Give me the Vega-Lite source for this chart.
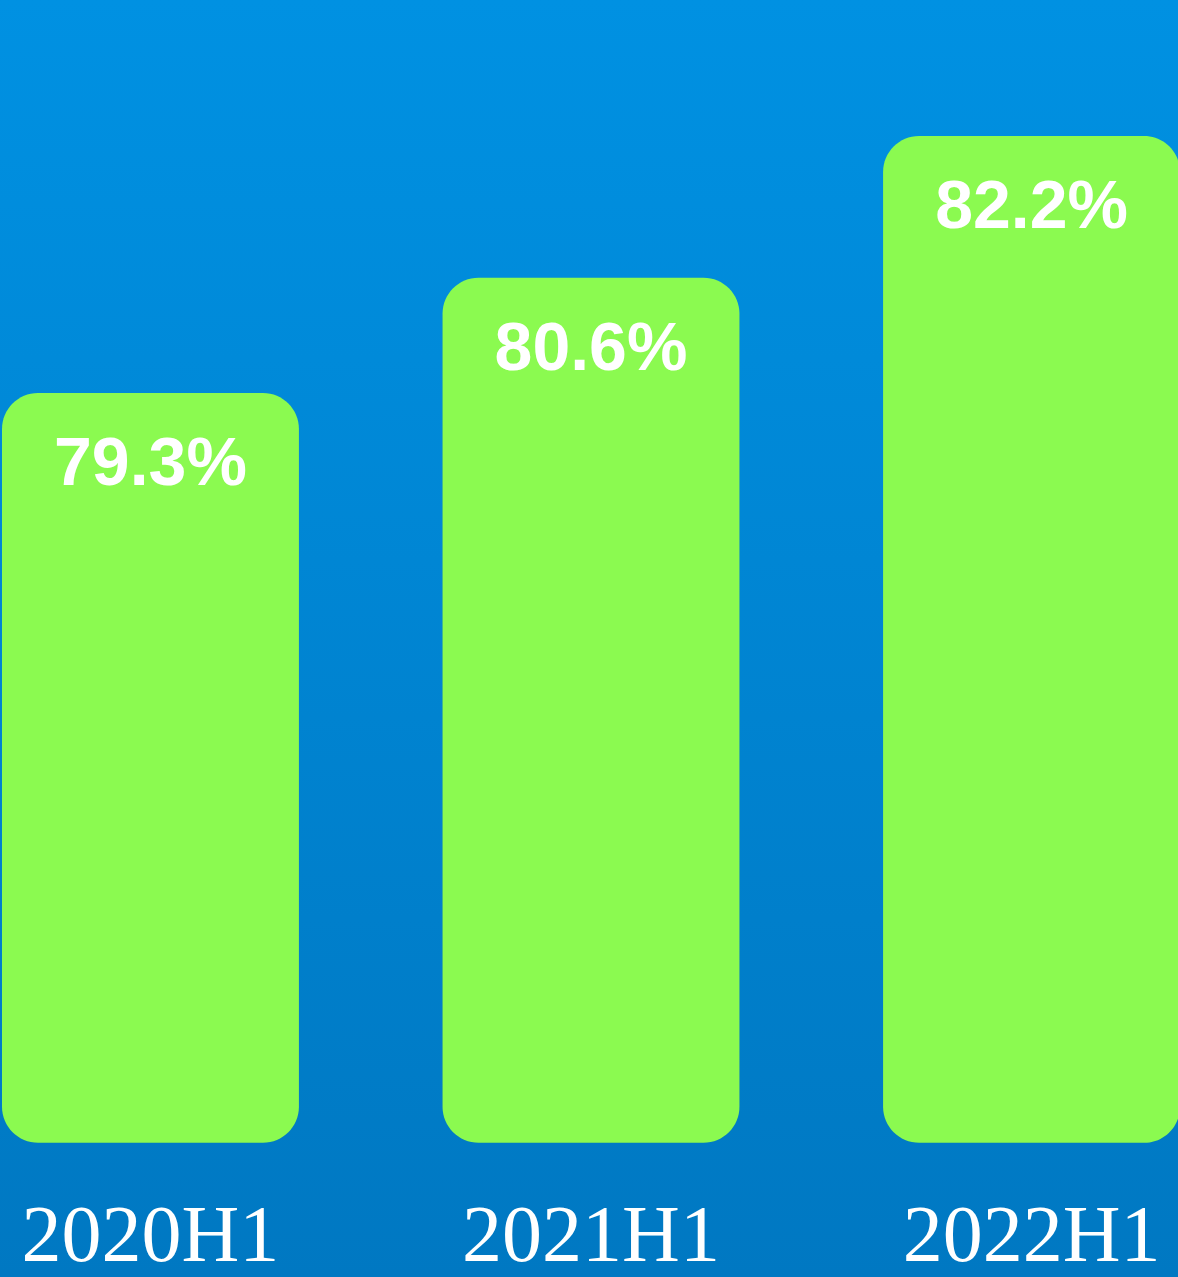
{
  "$schema": "https://vega.github.io/schema/vega-lite/v6.json",
  "width": 1178,
  "height": 1277,
  "padding": 0,
  "autosize": {"type": "none"},
  "background": "#0078C2",
  "view": {
    "stroke": null,
    "fill": {
      "gradient": "linear",
      "x1": 0, "y1": 0, "x2": 0, "y2": 1,
      "stops": [
        {"offset": 0, "color": "#0091E2"},
        {"offset": 1, "color": "#0078C2"}
      ]
    }
  },
  "data": {
    "values": [
      {"period": "2020H1", "value": 0.793},
      {"period": "2021H1", "value": 0.806},
      {"period": "2022H1", "value": 0.822}
    ]
  },
  "encoding": {
    "x": {
      "field": "period",
      "type": "nominal",
      "sort": null,
      "scale": {"paddingInner": 0.326, "paddingOuter": 0, "range": [2, 1180]},
      "axis": {
        "title": null,
        "domain": false,
        "ticks": false,
        "tickSize": 0,
        "grid": false,
        "labelAngle": 0,
        "labelLimit": 0,
        "labelBaseline": "alphabetic",
        "labelPadding": -17,
        "labelFont": "Liberation Serif",
        "labelFontSize": 80,
        "labelColor": "#FFFFFF"
      }
    },
    "y": {
      "field": "value",
      "type": "quantitative",
      "scale": {"domain": [0.6932, 0.83736], "zero": false, "nice": false},
      "axis": null
    }
  },
  "layer": [
    {
      "mark": {"type": "bar", "cornerRadius": 36, "color": "#00406E", "opacity": 0.18, "yOffset": 5},
      "encoding": {"y2": {"datum": 0.70835}}
    },
    {
      "mark": {"type": "bar", "cornerRadius": 36, "color": "#8BFA50"},
      "encoding": {"y2": {"datum": 0.70835}}
    },
    {
      "mark": {"type": "text", "font": "Liberation Sans", "fontWeight": "bold", "fontSize": 68, "color": "#FFFFFF", "baseline": "alphabetic", "dy": 92},
      "encoding": {"text": {"field": "value", "type": "quantitative", "format": ".1%"}}
    }
  ]
}
